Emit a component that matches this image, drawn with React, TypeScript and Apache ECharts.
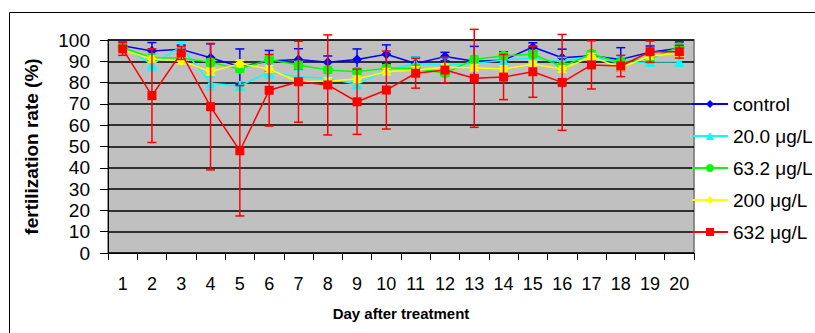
import React, { useEffect, useRef } from "react";
import * as echarts from "echarts";

const days = ["1","2","3","4","5","6","7","8","9","10","11","12","13","14","15","16","17","18","19","20"];
const seriesNames = ["control", "20.0 μg/L", "63.2 μg/L", "200 μg/L", "632 μg/L"];
const control = [97.3, 94.8, 95.6, 91.7, 87.5, 90.1, 90.9, 89.5, 90.8, 93.3, 89.0, 92.2, 90.0, 90.5, 96.7, 91.7, 92.6, 90.9, 94.2, 96.1];
const controlErr = [2, 4, 2, 6.5, 8.3, 5, 5, 3, 5, 4.4, 3, 2, 7, 4, 2, 4, 2, 5.5, 3, 3];
const c20 = [96.9, 88.6, 96.9, 79.7, 78.4, 85.1, 82.8, 82.0, 79.2, 85.9, 89.0, 88.3, 89.0, 90.6, 91.4, 89.8, 92.6, 89.0, 89.8, 89.8];
const c20Err = [2, 3, 2, 3, 2, 3, 3, 3, 2, 2, 3, 3.4, 2, 2, 2, 2, 2, 3, 2, 2];
const c63 = [96.5, 91.7, 91.5, 89.5, 86.4, 90.8, 88.3, 85.9, 85.1, 86.7, 86.7, 84.4, 90.9, 92.6, 93.3, 87.5, 93.4, 89.5, 91.4, 96.6];
const c63Err = [1.5, 1.5, 1.5, 1.5, 1.5, 1.5, 1.5, 1.5, 1.5, 1.5, 1.5, 1.5, 1.5, 1.5, 1.5, 1.5, 1.5, 1.5, 1.5, 1.5];
const c200 = [95.3, 91.1, 90.3, 85.1, 88.9, 86.4, 80.4, 80.8, 81.7, 85.1, 85.9, 87.2, 87.0, 86.4, 88.6, 86.4, 92.2, 87.0, 92.5, 93.8];
const c200Err = [1.5, 1.5, 1.5, 1.5, 1.5, 1.5, 1.5, 1.5, 1.5, 1.5, 1.5, 1.5, 1.5, 1.5, 1.5, 1.5, 1.5, 1.5, 1.5, 1.5];
const c632 = [95.8, 73.9, 93.9, 68.7, 48.0, 76.4, 80.4, 78.9, 71.0, 76.5, 84.4, 85.9, 82.0, 82.6, 85.1, 80.1, 88.3, 87.8, 94.5, 94.5];
const c632Err = [3, 22, 3, 29.7, 30.6, 16.8, 19, 23.5, 15.3, 18.3, 7, 6, 23, 10.6, 12, 22.5, 11.3, 5, 5, 3];
const yTicks = [0, 10, 20, 30, 40, 50, 60, 70, 80, 90, 100];

const colors = ["#0000ff", "#00ffff", "#00ff00", "#ffff00", "#ff0000"];
const symbols = ["diamond", "triangle", "circle", "diamond", "rect"];
const symbolSizes = [10, 10, 10, 10, 9];
const FONT = 'Arial, "Liberation Sans", sans-serif';

export default function App() {
  const ref = useRef<HTMLDivElement>(null);
  useEffect(() => {
    if (!ref.current) return;
    const chart = echarts.init(ref.current, undefined, { renderer: "svg" });
    const values = [control, c20, c63, c200, c632];
    const errs = [controlErr, c20Err, c63Err, c200Err, c632Err];

    const errSeries = values.map((vals, si) => ({
      type: "custom",
      name: "err-" + si,
      silent: true,
      z: 2 + si * 2,
      data: vals.map((v, i) => [i, v, errs[si][i]]),
      renderItem: (params: any, api: any) => {
        const x = api.value(0);
        const v = api.value(1);
        const e = api.value(2);
        const hi = api.coord([x, v + e]);
        const lo = api.coord([x, v - e]);
        const w = 4.5;
        const st = { stroke: colors[si], lineWidth: 1.5 };
        return {
          type: "group",
          children: [
            { type: "line", shape: { x1: hi[0], y1: hi[1], x2: lo[0], y2: lo[1] }, style: st },
            { type: "line", shape: { x1: hi[0] - w, y1: hi[1], x2: hi[0] + w, y2: hi[1] }, style: st },
            { type: "line", shape: { x1: lo[0] - w, y1: lo[1], x2: lo[0] + w, y2: lo[1] }, style: st },
          ],
        };
      },
    }));

    const lineSeries = values.map((vals, si) => ({
      type: "line",
      name: seriesNames[si],
      data: vals,
      z: 3 + si * 2,
      symbol: symbols[si],
      symbolSize: symbolSizes[si],
      showAllSymbol: true,
      color: colors[si],
      lineStyle: { color: colors[si], width: 1.5 },
      itemStyle: { color: colors[si] },
    }));

    chart.setOption({
      animation: false,
      textStyle: { fontFamily: FONT },
      grid: {
        left: 108,
        right: 121,
        top: 40,
        bottom: 80,
        show: true,
        backgroundColor: "#c0c0c0",
        borderColor: "#707070",
        borderWidth: 1.5,
      },
      legend: {
        orient: "vertical",
        left: 686,
        top: 89,
        itemWidth: 36,
        itemHeight: 10,
        itemGap: 12,
        data: seriesNames,
        textStyle: { fontSize: 19, color: "#000", fontFamily: FONT, lineHeight: 20 },
      },
      xAxis: {
        type: "category",
        data: days,
        boundaryGap: true,
        name: "Day after treatment",
        nameLocation: "middle",
        nameGap: 53,
        nameTextStyle: { fontSize: 15, fontWeight: "bold", color: "#000", fontFamily: FONT },
        axisLine: { lineStyle: { color: "#000", width: 1 } },
        axisTick: { show: true, length: 7, lineStyle: { color: "#000" } },
        axisLabel: { fontSize: 18, color: "#000", margin: 22, fontFamily: FONT, interval: 0 },
        splitLine: { show: false },
      },
      yAxis: {
        type: "value",
        min: yTicks[0],
        max: yTicks[yTicks.length - 1],
        interval: 10,
        name: "fertilization rate (%)",
        nameLocation: "middle",
        nameGap: 67,
        nameTextStyle: { fontSize: 19, fontWeight: "bold", color: "#000", fontFamily: FONT },
        axisLine: { show: true, lineStyle: { color: "#000", width: 1 } },
        axisTick: { show: true, length: 8, lineStyle: { color: "#000" } },
        axisLabel: { fontSize: 19, color: "#000", margin: 18, fontFamily: FONT },
        splitLine: { show: true, lineStyle: { color: "#000", width: 1.5 } },
      },
      graphic: [
        {
          type: "rect",
          shape: { x: 9.5, y: 12.5, width: 900, height: 400 },
          style: { fill: "none", stroke: "#000", lineWidth: 1 },
          silent: true,
          z: 0,
        },
      ],
      series: [...errSeries, ...lineSeries],
    });
    return () => chart.dispose();
  }, []);
  return (
    <div
      ref={ref}
      style={{ position: "absolute", left: 0, top: 0, width: 815, height: 333, background: "#fff" }}
    />
  );
}
